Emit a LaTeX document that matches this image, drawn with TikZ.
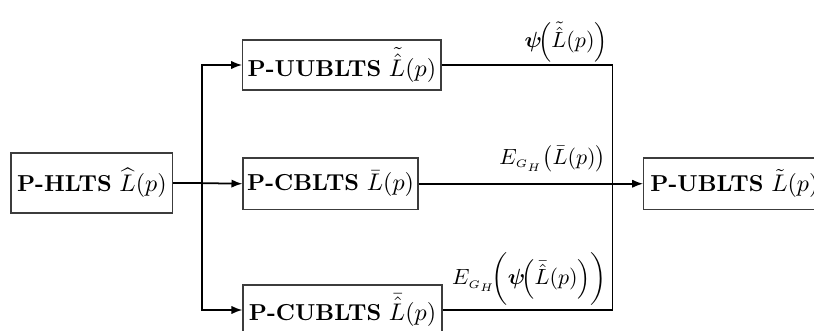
\documentclass[tikz,border=0pt]{standalone}
\usepackage{amsmath}
\usepackage{bm}
\usetikzlibrary{arrows.meta}
\definecolor{boxline}{RGB}{60, 60, 60}
\tikzset{
    blockbox/.style={draw=boxline, line width=0.6pt, inner sep=0pt, align=center, font=\fontsize{10.5}{12.5}\selectfont},
    sumlabel/.style={anchor=south east, inner sep=0pt},
    wire/.style={line width=0.8pt},
    feed/.style={wire, -{Latex[length=5pt,width=3.8pt]}}
}

\begin{document}
\begin{tikzpicture}
            \useasboundingbox (0.00, 0.00) rectangle (13.024,-5.296);
            \node[blockbox, minimum width=2.59cm, minimum height=0.96cm] (hlts) at ( 1.47,-2.93) {\textbf{P-HLTS} $\widehat{L}(p)$};
            \node[blockbox, minimum width=3.17cm, minimum height=0.80cm] (uub)  at ( 5.47,-1.04) {\textbf{P-UUBLTS} $\tilde{\hat{L}}(p)$};
            \node[blockbox, minimum width=2.80cm, minimum height=0.82cm] (cb)   at ( 5.29,-2.94) {\textbf{P-CBLTS} $\bar{L}(p)$};
            \node[blockbox, minimum width=3.18cm, minimum height=0.80cm] (cub)  at ( 5.48,-4.96) {\textbf{P-CUBLTS} $\bar{\hat{L}}(p)$};
            \node[blockbox, minimum width=2.90cm, minimum height=0.82cm, anchor=west] (ubl) at (10.29,-2.94) {\textbf{P-UBLTS} $\tilde{L}(p)$};
            \coordinate (split) at ( 3.23,-2.93);
            \coordinate (mtop)  at ( 9.80,-1.04);
            \coordinate (mbot)  at ( 9.80,-4.96);
        \draw[wire] (hlts.east) -- (split);
        \draw[feed] (split) |- (uub.west);
        \draw[feed] (split) -- (cb.west);
        \draw[feed] (split) |- (cub.west);
        \draw[wire] (uub.east) -- (mtop) -- (mbot) -- (cub.east);
        \draw[feed] (cb.east) -- (ubl.west);
            \node[sumlabel] (lbtop) at ( 9.73,-1.00) {$\bm{\psi}\!\Bigl(\tilde{\hat{L}}(p)\Bigr)$};
            \node[sumlabel] (lbmid) at ( 9.70,-2.76) {$E_{\scriptscriptstyle G_H}\bigl(\bar{L}(p)\bigr)$};
            \node[sumlabel] (lbbot) at ( 9.72,-4.90) {$E_{\scriptscriptstyle G_H}\!\biggl(\bm{\psi}\!\Bigl(\bar{\hat{L}}(p)\Bigr)\biggr)$};
        \end{tikzpicture}
\end{document}
